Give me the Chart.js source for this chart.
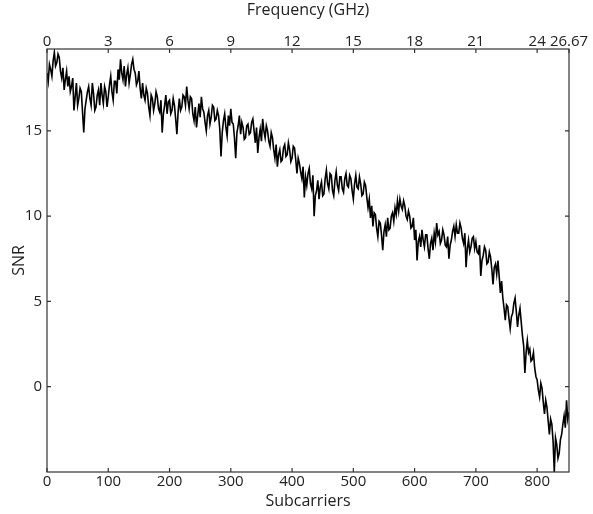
<!DOCTYPE html>
<html><head><meta charset="utf-8">
<script src="https://cdn.jsdelivr.net/npm/chart.js@4/dist/chart.umd.min.js"></script>
<style>html,body{margin:0;padding:0;background:#fff}#wrap{width:593px;height:514px}</style>
</head><body><div id="wrap"><canvas id="c" width="593" height="514"></canvas></div>
<script>
// SNR sampled every 2nd subcarrier, starting at subcarrier 0
const firstSubcarrier = 0;
const subcarrierStep = 2;
const snr = [
18.4,17.9,18.9,18.6,18.2,19.1,19.6,18.8,19.0,19.5,19.3,18.5,18.1,18.7,17.4,18.0,18.5,17.6,18.2,17.3,
17.6,18.1,16.2,17.0,17.8,16.5,16.9,17.5,17.3,16.1,14.9,16.3,16.8,17.3,17.6,16.9,16.5,17.8,17.2,16.2,
16.4,17.1,17.4,16.5,17.8,17.1,16.6,17.6,17.3,16.4,17.0,17.7,18.2,17.3,16.8,17.9,17.9,17.2,18.6,18.0,
19.2,18.4,18.0,18.8,17.6,18.3,18.7,17.8,18.3,18.9,19.2,18.6,18.4,17.7,17.9,18.5,17.5,16.9,17.8,17.1,
16.8,17.5,17.2,16.4,15.9,17.1,16.9,16.2,16.6,17.3,17.0,16.3,16.1,16.8,14.9,16.0,16.5,17.1,16.0,16.7,
16.8,16.0,16.2,16.9,16.5,15.7,14.8,16.1,16.9,16.2,16.4,17.1,17.0,16.5,17.6,16.8,16.3,17.0,16.9,16.0,
15.6,16.4,15.2,15.9,16.6,15.8,17.0,16.3,16.1,15.5,15.0,15.9,16.2,15.4,15.8,16.5,16.4,15.6,15.7,16.2,
15.9,15.1,13.5,14.9,15.6,16.0,15.2,14.7,15.9,15.3,16.3,15.5,15.4,14.6,13.4,14.9,15.3,15.9,14.8,15.5,
15.2,14.5,14.6,15.3,15.4,14.8,14.9,15.5,15.7,15.0,14.3,15.2,13.7,14.6,15.1,14.4,15.7,15.0,14.6,15.3,
15.0,14.4,14.1,14.9,14.6,13.9,13.4,14.2,12.9,13.6,13.9,13.2,13.3,14.0,14.2,13.5,13.6,14.3,13.9,13.2,
13.4,14.1,14.0,13.3,12.5,13.4,13.1,12.6,12.2,12.9,11.1,12.3,11.8,12.5,12.8,11.9,11.6,12.4,10.0,11.2,
11.5,12.1,11.0,11.7,12.0,11.2,11.3,12.2,12.7,11.9,11.6,12.5,12.4,11.5,11.2,12.1,12.6,11.8,11.5,12.3,
12.3,11.6,11.4,12.2,12.5,11.8,11.7,12.4,12.2,11.5,11.0,11.9,12.4,11.7,11.6,12.3,11.9,11.2,11.3,12.0,
11.8,11.1,10.5,11.0,9.9,10.6,9.4,10.2,10.1,9.3,8.8,9.7,9.6,8.9,8.0,9.1,9.5,8.8,9.9,9.2,
9.3,10.0,10.2,9.7,10.5,10.1,10.9,10.3,11.0,10.6,10.4,10.9,10.6,10.0,9.8,10.3,10.0,9.3,9.4,9.9,
8.6,9.2,7.4,8.5,8.8,8.2,9.2,8.6,8.2,8.9,8.9,8.1,7.5,8.4,8.7,8.0,9.0,8.5,9.6,8.9,
9.1,8.4,8.6,9.2,8.9,8.3,8.2,8.8,7.5,8.3,8.6,9.1,9.4,8.8,9.5,9.0,9.0,9.6,9.3,8.7,
8.4,9.0,7.0,8.1,8.6,7.9,8.2,8.7,8.8,8.1,8.5,7.9,7.8,8.3,6.5,7.4,7.7,8.2,8.0,7.2,
7.3,7.9,7.6,6.9,6.0,7.0,7.2,6.6,7.4,6.5,5.5,6.2,5.2,4.6,3.9,4.8,4.7,4.0,3.4,4.1,
4.3,4.9,5.2,4.4,3.5,4.2,4.6,3.8,3.0,2.4,0.8,2.0,2.7,2.0,2.2,1.5,1.6,2.0,1.1,0.6,
0.4,-0.2,-0.6,0.2,-0.1,-0.9,-1.6,-0.8,-1.2,-2.0,-2.8,-1.9,-2.2,-3.2,-5.0,-3.0,-3.4,-4.2,-3.9,-3.1,
-2.8,-2.2,-1.7,-2.4,-0.8,-1.9,-1.5];
const subcarrierTicks = [0,100,200,300,400,500,600,700,800];
const freqTickPositions = [0,100,200,300,400,500,600,700,800,852];
const freqTickLabels = ['0','3','6','9','12','15','18','21','24','26.67'];
const snrTicks = [0,5,10,15];

const FONT = "'Open Sans', sans-serif";
const txt = '#222';
const framePlugin = {
  id:'frame',
  afterDatasetsDraw(chart){
    const {ctx, chartArea:a, scales} = chart;
    ctx.save();
    ctx.strokeStyle='#333'; ctx.lineWidth=1.2;
    ctx.strokeRect(a.left, a.top, a.right-a.left, a.bottom-a.top);
    ctx.beginPath();
    const L=4;
    subcarrierTicks.forEach(v=>{const p=scales.x.getPixelForValue(v); ctx.moveTo(p,a.bottom); ctx.lineTo(p,a.bottom-L);});
    freqTickPositions.forEach(v=>{const p=scales.x2.getPixelForValue(v); ctx.moveTo(p,a.top); ctx.lineTo(p,a.top+L);});
    snrTicks.forEach(v=>{const p=scales.y.getPixelForValue(v); ctx.moveTo(a.left,p); ctx.lineTo(a.left+L,p); ctx.moveTo(a.right,p); ctx.lineTo(a.right-L,p);});
    ctx.stroke(); ctx.restore();
  }
};

new Chart(document.getElementById('c'), {
  type:'line',
  data:{datasets:[{
    data: snr.map((v,i)=>({x:firstSubcarrier+i*subcarrierStep,y:v})),
    borderColor:'#000', borderWidth:1.6, pointRadius:0, tension:0,
    xAxisID:'x', yAxisID:'y'
  }]},
  options:{
    responsive:false, animation:false,
    layout:{padding:{left:0,right:24,top:0,bottom:0}},
    plugins:{legend:{display:false}, tooltip:{enabled:false}},
    scales:{
      x:{type:'linear', position:'bottom', min:0, max:852,
        afterBuildTicks:s=>{s.ticks=subcarrierTicks.map(v=>({value:v}));},
        ticks:{color:txt, font:{family:FONT,size:15}, padding:1, maxRotation:0, autoSkip:false},
        grid:{display:false, drawTicks:false}, border:{display:false},
        title:{display:true, text:'Subcarriers', color:txt, font:{family:FONT,size:16}, padding:{top:0,bottom:3}},
        afterFit:s=>{s.height=42;}
      },
      x2:{type:'linear', position:'top', min:0, max:852,
        afterBuildTicks:s=>{s.ticks=freqTickPositions.map(v=>({value:v}));},
        ticks:{color:txt, font:{family:FONT,size:15}, padding:-2, maxRotation:0, autoSkip:false,
          callback:(v)=>freqTickLabels[freqTickPositions.indexOf(v)]},
        grid:{display:false, drawTicks:false}, border:{display:false},
        title:{display:true, text:'Frequency (GHz)', color:txt, font:{family:FONT,size:16}, padding:{top:1,bottom:0}},
        afterFit:s=>{s.height=49;}
      },
      y:{type:'linear', position:'left', min:-5, max:19.8,
        afterBuildTicks:s=>{s.ticks=snrTicks.map(v=>({value:v}));},
        ticks:{color:txt, font:{family:FONT,size:15}, padding:5},
        grid:{display:false, drawTicks:false}, border:{display:false},
        title:{display:true, text:'SNR', color:txt, font:{family:FONT,size:16}, padding:{top:10,bottom:0}},
        afterFit:s=>{s.width=47;}
      }
    }
  },
  plugins:[framePlugin]
});
</script></body></html>
